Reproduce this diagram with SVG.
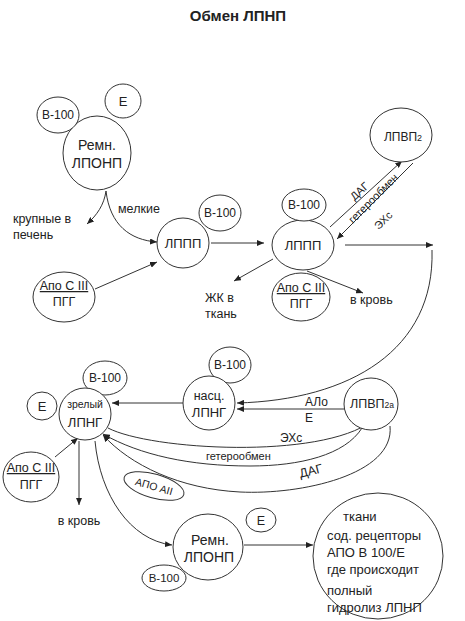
<svg xmlns="http://www.w3.org/2000/svg" width="465" height="621" viewBox="0 0 465 621">
<defs>
<marker id="ar" markerUnits="userSpaceOnUse" markerWidth="8" markerHeight="6" refX="7" refY="3" orient="auto">
<path d="M0,0 L7,3 L0,6 z" fill="#222"/>
</marker>
<style>
.n{fill:#fff;stroke:#333;stroke-width:1}
.t{font-family:"Liberation Sans",Arial,sans-serif;fill:#222;text-anchor:middle}
.l{font-family:"Liberation Sans",Arial,sans-serif;fill:#222}
.c{fill:none;stroke:#333;stroke-width:1;marker-end:url(#ar)}
.u{text-decoration:underline}
</style>
</defs>
<rect width="465" height="621" fill="#fff"/>
<text class="t" x="238" y="21" font-size="15" font-weight="bold">Обмен ЛПНП</text>

<g id="connectors">
<path class="c" d="M106,191 C104,205 97,215 87,224"/>
<path class="c" d="M106,191 C110,225 130,240 157,242"/>
<path class="c" d="M95,289 L157,262"/>
<path class="c" d="M211,243 L264,243"/>
<path class="c" d="M273,259 L234,281"/>
<path class="c" d="M307,271 L363,293"/>
<path class="c" d="M345,245 L433,245"/>
<path class="c" d="M330,227 L402,161"/>
<path class="c" d="M413,163 L337,239"/>
<path class="c" d="M432,250 C435,350 350,400 237,403"/>
<path class="c" d="M345,409 L237,409"/>
<path class="c" d="M183,403 L112,403"/>
<path class="c" d="M108,428 C150,450 320,460 372,421"/>
<path class="c" d="M362,428 C345,455 300,466 250,466 C190,466 140,455 103,434"/>
<path class="c" d="M390,426 C395,475 300,495 240,492 C180,489 130,465 103,435"/>
<path class="c" d="M55,457 L78,438"/>
<path class="c" d="M79,441 L79,505"/>
<path class="c" d="M95,441 C100,495 130,540 172,545"/>
<path class="c" d="M244,545 L313,545"/>
</g>

<g id="edge-labels">
<text class="l" x="118" y="213" font-size="12.5">мелкие</text>
<text class="l" x="13" y="223" font-size="12.5">крупные в</text>
<text class="l" x="13" y="239" font-size="12.5">печень</text>
<text class="l" x="205" y="302" font-size="12.5">ЖК в</text>
<text class="l" x="205" y="318" font-size="12.5">ткань</text>
<text class="l" x="350" y="304" font-size="12.5">в кровь</text>
<text class="t" font-size="11" transform="translate(362,194) rotate(-43)">ДАГ</text>
<text class="t" font-size="11" transform="translate(376,201) rotate(-45)">гетерообмен</text>
<text class="t" font-size="11" transform="translate(386,223) rotate(-45)">ЭХс</text>
<text class="l" x="305" y="406" font-size="12">АЛо</text>
<text class="l" x="305" y="422" font-size="12">Е</text>
<text class="l" x="280" y="442" font-size="12">ЭХс</text>
<text class="l" x="206" y="460" font-size="11">гетерообмен</text>
<text class="t" font-size="12.5" transform="translate(312,475) rotate(-14)">ДАГ</text>
<text class="t" x="79" y="525" font-size="12.5">в кровь</text>
</g>

<g id="remn-lponp-top">
<ellipse class="n" cx="97" cy="153" rx="34" ry="37"/>
<text class="t" x="97" y="150" font-size="14">Ремн.</text>
<text class="t" x="97" y="168" font-size="14">ЛПОНП</text>
</g>
<g id="b100-a">
<ellipse class="n" cx="58" cy="115" rx="21" ry="18"/>
<text class="t" x="58" y="119" font-size="12">В-100</text>
</g>
<g id="e-a">
<ellipse class="n" cx="123" cy="101" rx="18" ry="17"/>
<text class="t" x="123" y="106" font-size="13">Е</text>
</g>

<g id="apo-a">
<ellipse class="n" cx="64" cy="297" rx="31" ry="25"/>
<text class="t u" x="64" y="290" font-size="12.5">Апо С III</text>
<text class="t" x="64" y="306" font-size="12.5">ПГГ</text>
</g>

<g id="lppp-1">
<ellipse class="n" cx="183" cy="243" rx="26" ry="25"/>
<text class="t" x="183" y="248" font-size="13">ЛППП</text>
</g>
<g id="b100-b">
<ellipse class="n" cx="220" cy="213" rx="21" ry="18"/>
<text class="t" x="220" y="217" font-size="12">В-100</text>
</g>

<g id="lppp-2">
<ellipse class="n" cx="303" cy="245" rx="31" ry="25"/>
<text class="t" x="303" y="250" font-size="13">ЛППП</text>
</g>
<g id="b100-c">
<ellipse class="n" cx="304" cy="205" rx="22" ry="16"/>
<text class="t" x="304" y="209" font-size="12">В-100</text>
</g>
<g id="apo-b">
<ellipse class="n" cx="301" cy="297" rx="29" ry="24"/>
<text class="t u" x="301" y="292" font-size="12.5">Апо С III</text>
<text class="t" x="301" y="308" font-size="12.5">ПГГ</text>
</g>

<g id="lpvp2">
<ellipse class="n" cx="401" cy="135" rx="31" ry="27"/>
<text class="t" x="403" y="141" font-size="12">ЛПВП<tspan font-size="9">2</tspan></text>
</g>

<g id="b100-d">
<ellipse class="n" cx="230" cy="365" rx="21" ry="18"/>
<text class="t" x="230" y="369" font-size="12">В-100</text>
</g>
<g id="nasc-lpng">
<ellipse class="n" cx="209" cy="403" rx="26" ry="27"/>
<text class="t" x="209" y="400" font-size="12.5">насц.</text>
<text class="t" x="209" y="417" font-size="13">ЛПНГ</text>
</g>

<g id="lpvp2a">
<ellipse class="n" cx="371" cy="404" rx="27" ry="26"/>
<text class="t" x="372" y="408" font-size="12.5">ЛПВП<tspan font-size="8.5">2а</tspan></text>
</g>

<g id="b100-e">
<ellipse class="n" cx="105" cy="378" rx="22" ry="17"/>
<text class="t" x="105" y="382" font-size="12">В-100</text>
</g>
<g id="zrel-lpng">
<ellipse class="n" cx="85" cy="414" rx="26" ry="26"/>
<text class="t" x="85" y="408" font-size="10.5">зрелый</text>
<text class="t" x="85" y="427" font-size="13">ЛПНГ</text>
</g>
<g id="e-b">
<ellipse class="n" cx="42" cy="406" rx="15" ry="14"/>
<text class="t" x="42" y="411" font-size="13">Е</text>
</g>
<g id="apo-c">
<ellipse class="n" cx="31" cy="477" rx="28" ry="25"/>
<text class="t u" x="31" y="472" font-size="12.5">Апо С III</text>
<text class="t" x="31" y="489" font-size="12.5">ПГГ</text>
</g>

<g id="apo-aii">
<ellipse class="n" cx="154" cy="486" rx="31" ry="12" transform="rotate(16 154 486)"/>
<text class="t" font-size="10.5" transform="translate(153,490) rotate(16)">АПО АII</text>
</g>

<g id="remn-lponp-bottom">
<ellipse class="n" cx="208" cy="547" rx="35" ry="33"/>
<text class="t" x="210" y="545" font-size="14">Ремн.</text>
<text class="t" x="209" y="562" font-size="14">ЛПОНП</text>
</g>
<g id="e-c">
<ellipse class="n" cx="261" cy="520" rx="15" ry="12"/>
<text class="t" x="261" y="525" font-size="12.5">Е</text>
</g>
<g id="b100-f">
<ellipse class="n" cx="164" cy="578" rx="22" ry="13"/>
<text class="t" x="164" y="582" font-size="11.5">В-100</text>
</g>

<g id="tissues">
<ellipse class="n" cx="378" cy="556" rx="65" ry="63"/>
<text class="l" x="343" y="521" font-size="13">ткани</text>
<text class="l" x="327" y="540" font-size="13">сод. рецепторы</text>
<text class="l" x="327" y="557" font-size="13">АПО  В 100/Е</text>
<text class="l" x="327" y="574" font-size="13">где происходит</text>
<text class="l" x="327" y="595" font-size="13">полный</text>
<text class="l" x="327" y="612" font-size="13">гидролиз ЛПНП</text>
</g>
</svg>
